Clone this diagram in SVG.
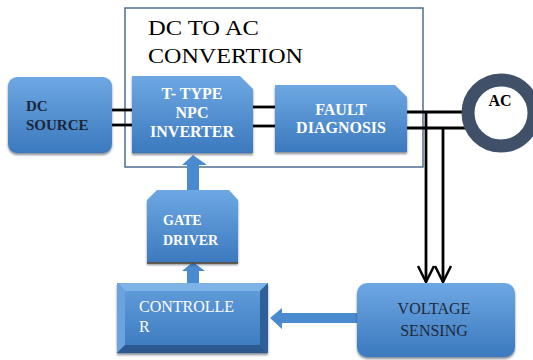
<svg xmlns="http://www.w3.org/2000/svg" width="533" height="360" viewBox="0 0 533 360">
<defs>
<linearGradient id="blue" x1="0" y1="0" x2="0" y2="1">
<stop offset="0" stop-color="#6ea8e3"/>
<stop offset="1" stop-color="#3b79be"/>
</linearGradient>
<linearGradient id="face" x1="0" y1="0" x2="0" y2="1">
<stop offset="0" stop-color="#5e9ad8"/>
<stop offset="1" stop-color="#3f7dc2"/>
</linearGradient>
<filter id="sh" x="-10%" y="-10%" width="130%" height="130%">
<feDropShadow dx="0" dy="2" stdDeviation="1.2" flood-color="#1d2f45" flood-opacity="0.55"/>
</filter>
<marker id="vee" viewBox="0 0 18 18" refX="17" refY="9" markerWidth="18" markerHeight="18" markerUnits="userSpaceOnUse" orient="auto">
<path d="M1,1 L17,9 L1,17" fill="none" stroke="#000" stroke-width="2.5"/>
</marker>
</defs>
<style>
.box{fill:url(#blue);filter:url(#sh)}
.wire{stroke:#000;stroke-width:2.8;fill:none}
.blk{fill:#4a8bd0}
.t{font-family:"Liberation Serif","Times New Roman",serif}
.wb{font-weight:bold;fill:#fff}
.db{font-weight:bold;fill:#1b2638}
.wr{fill:#fff}
.dr{fill:#1e2a3a}
</style>
<rect width="533" height="360" fill="#fff"/>

<g id="frame">
<rect x="125" y="8" width="298" height="159" fill="none" stroke="#4d6f91" stroke-width="1.5"/>
<text class="t" x="148" y="35" font-size="21" fill="#000" textLength="111" lengthAdjust="spacingAndGlyphs">DC TO AC</text>
<text class="t" x="148" y="63" font-size="21" fill="#000" textLength="155" lengthAdjust="spacingAndGlyphs">CONVERTION</text>
</g>

<g id="connectors">
<line class="wire" x1="112" y1="110" x2="133" y2="110"/>
<line class="wire" x1="112" y1="125" x2="133" y2="125"/>
<line class="wire" x1="252" y1="107" x2="276" y2="107"/>
<line class="wire" x1="252" y1="126" x2="276" y2="126"/>
<line class="wire" x1="406" y1="112" x2="468" y2="112"/>
<line class="wire" x1="406" y1="128" x2="466" y2="128"/>
<polyline class="wire" points="426,112 426,282" marker-end="url(#vee)"/>
<polyline class="wire" points="443,128 443,282" marker-end="url(#vee)"/>
<path class="blk" d="M187,190 L187,165 L182,165 L193,155 L207,165 L199,165 L199,190 Z"/>
<path class="blk" d="M187,284 L187,271 L182,271 L193,262 L205,271 L199,271 L199,284 Z"/>
<path class="blk" d="M358,313 L282,313 L282,308 L270,318 L282,329 L282,323 L358,323 Z"/>
</g>

<g id="dc-source">
<rect class="box" x="8" y="77" width="104" height="76" rx="9"/>
<text class="t db" x="26" y="111" font-size="15">DC</text>
<text class="t db" x="26" y="130" font-size="15">SOURCE</text>
</g>

<g id="inverter">
<path class="box" d="M132,76 L240,76 L253,89 L253,153 L132,153 Z"/>
<text class="t wb" x="192" y="99" font-size="16" text-anchor="middle">T- TYPE</text>
<text class="t wb" x="192" y="118" font-size="16" text-anchor="middle">NPC</text>
<text class="t wb" x="192" y="137" font-size="16" text-anchor="middle">INVERTER</text>
</g>

<g id="fault">
<path class="box" d="M275,85 L395,85 L407,97 L407,152 L275,152 Z"/>
<text class="t wb" x="341" y="115" font-size="16" text-anchor="middle">FAULT</text>
<text class="t wb" x="341" y="133" font-size="16" text-anchor="middle">DIAGNOSIS</text>
</g>

<g id="ac">
<circle cx="501" cy="113" r="33" fill="#fff" stroke="#3f5068" stroke-width="13"/>
<text class="t" x="500" y="106" font-weight="bold" font-size="16" text-anchor="middle" fill="#000">AC</text>
</g>

<g id="gate-driver">
<path class="box" d="M157,190 L229,190 L238,200 L238,263 L147,263 L147,200 Z"/>
<line x1="147" y1="263" x2="238" y2="263" stroke="#5a4636" stroke-width="1.5"/>
<text class="t wb" x="163" y="225" font-size="14">GATE</text>
<text class="t wb" x="163" y="245" font-size="14">DRIVER</text>
</g>

<g id="controller">
<rect x="117" y="283" width="151" height="70" fill="#3f7cc0" filter="url(#sh)"/>
<path d="M117,283 L268,283 L260,291 L125,291 Z" fill="#7eb3e8"/>
<path d="M117,283 L125,291 L125,345 L117,353 Z" fill="#6aa3df"/>
<path d="M268,283 L268,353 L260,345 L260,291 Z" fill="#2e5f98"/>
<path d="M117,353 L268,353 L260,345 L125,345 Z" fill="#2c5a90"/>
<rect x="125" y="291" width="135" height="54" fill="url(#face)"/>
<text class="t wr" x="139" y="312" font-size="16">CONTROLLE</text>
<text class="t wr" x="139" y="332" font-size="16">R</text>
</g>

<g id="voltage-sensing">
<rect class="box" x="357" y="283" width="158" height="74" rx="10"/>
<text class="t dr" x="434" y="314" font-size="16" text-anchor="middle">VOLTAGE</text>
<text class="t dr" x="434" y="336" font-size="16" text-anchor="middle">SENSING</text>
</g>
</svg>
